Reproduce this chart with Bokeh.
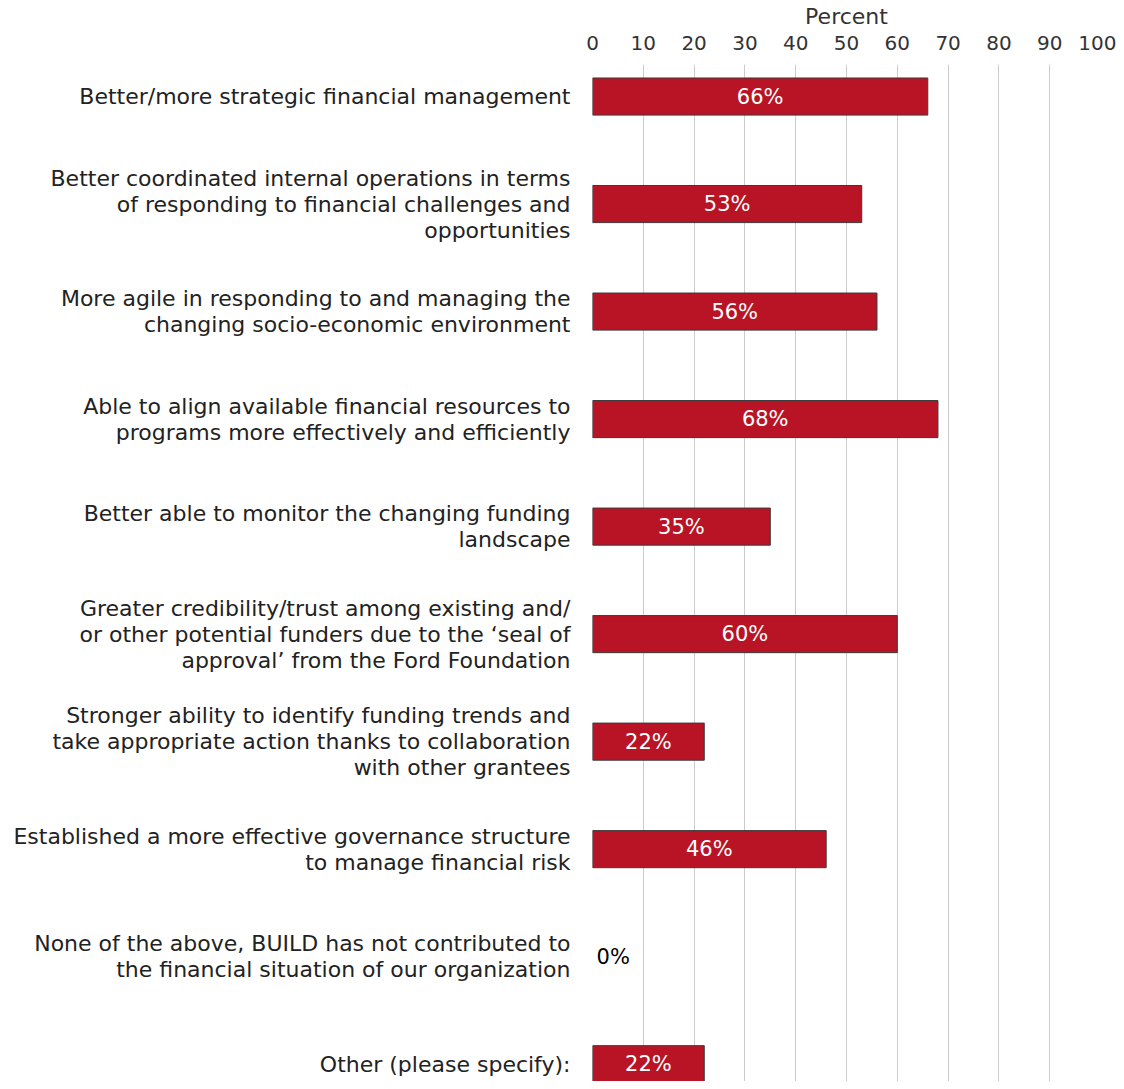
from bokeh.plotting import figure
from bokeh.models import Range1d, FixedTicker, ColumnDataSource
from bokeh.core.properties import value
from bokeh.embed import file_html
from bokeh.resources import INLINE

categories = [
    "Better/more strategic financial management",
    "Better coordinated internal operations in terms\nof responding to financial challenges and\nopportunities",
    "More agile in responding to and managing the\nchanging socio-economic environment",
    "Able to align available financial resources to\nprograms more effectively and efficiently",
    "Better able to monitor the changing funding\nlandscape",
    "Greater credibility/trust among existing and/\nor other potential funders due to the \u2018seal of\napproval\u2019 from the Ford Foundation",
    "Stronger ability to identify funding trends and\ntake appropriate action thanks to collaboration\nwith other grantees",
    "Established a more effective governance structure\nto manage financial risk",
    "None of the above, BUILD has not contributed to\nthe financial situation of our organization",
    "Other (please specify):",
]
values = [66, 53, 56, 68, 35, 60, 22, 46, 0, 22]
x_ticks = [0, 10, 20, 30, 40, 50, 60, 70, 80, 90, 100]

FONT = "DejaVu Sans"
RED = "#b81425"

ys = list(range(len(categories)))
lab_x = [v / 2 if v > 0 else v + 0.8 for v in values]
lab_col = ["white" if v > 0 else "black" for v in values]
lab_align = ["center" if v > 0 else "left" for v in values]
line_a = [1.0 if v > 0 else 0.0 for v in values]
labels = [f"{v}%" for v in values]

src = ColumnDataSource(dict(y=ys, v=values, lx=lab_x, lc=lab_col, la=lab_align,
                            t=labels, la_line=line_a))

p = figure(width=1116, height=1081, output_backend="svg", toolbar_location=None,
           x_range=Range1d(0, 100), y_range=Range1d(9.161, -0.298),
           x_axis_location="above", min_border_left=592, min_border_right=16,
           min_border_top=58, min_border_bottom=0)
p.outline_line_color = None
p.background_fill_color = "white"

p.hbar(y="y", right="v", left=0, height=0.345, source=src, fill_color=RED,
       line_color="#3a3a3a", line_alpha="la_line", line_width=1)
p.text(x="lx", y="y", text="t", source=src, text_color="lc", text_align="la",
       text_baseline="middle", text_font=value(FONT), text_font_size="21px")

xa = p.xaxis[0]
xa.ticker = FixedTicker(ticks=x_ticks)
xa.axis_label = "Percent"
xa.axis_label_text_font = FONT
xa.axis_label_text_font_style = "normal"
xa.axis_label_text_font_size = "22px"
xa.axis_label_text_color = "#333333"
xa.axis_label_standoff = 4
xa.major_label_text_font = FONT
xa.major_label_text_font_size = "20px"
xa.major_label_text_color = "#333333"
xa.major_label_standoff = 9
xa.axis_line_color = None
xa.major_tick_line_color = None
xa.minor_tick_line_color = None

ya = p.yaxis[0]
ya.ticker = FixedTicker(ticks=ys)
ya.major_label_overrides = {i: c for i, c in enumerate(categories)}
ya.major_label_text_font = FONT
ya.major_label_text_font_size = "22px"
ya.major_label_text_line_height = 1.04
ya.major_label_text_color = "#222222"
ya.major_label_standoff = 16
ya.axis_line_color = None
ya.major_tick_line_color = None
ya.minor_tick_line_color = None

p.xgrid.ticker = FixedTicker(ticks=x_ticks)
p.xgrid.grid_line_color = "#cccccc"
p.ygrid.grid_line_color = None

open("out.html", "w").write(file_html(p, INLINE))
